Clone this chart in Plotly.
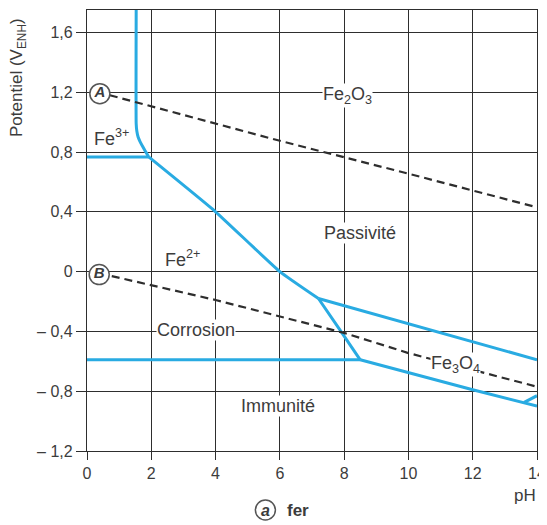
import plotly.graph_objects as go

# ---- data ----
ph_fe3_fe2o3 = [1.53, 1.53, 1.55, 1.59, 1.65, 1.75, 1.92]
e_fe3_fe2o3 = [1.75, 0.99, 0.94, 0.9, 0.87, 0.83, 0.767]
ph_fe3_fe2 = [0.0, 1.92]
e_fe3_fe2 = [0.767, 0.767]
ph_fe2_fe2o3 = [1.92, 4.0, 6.0, 7.2]
e_fe2_fe2o3 = [0.767, 0.4, 0.0, -0.18]
ph_fe2_fe3o4 = [7.2, 7.9, 8.5]
e_fe2_fe3o4 = [-0.18, -0.4, -0.59]
ph_fe3o4_fe2o3 = [7.2, 14.0]
e_fe3o4_fe2o3 = [-0.18, -0.59]
ph_fe_fe2 = [0.0, 8.5]
e_fe_fe2 = [-0.59, -0.59]
ph_fe_fe3o4 = [8.5, 12.0, 14.0]
e_fe_fe3o4 = [-0.59, -0.79, -0.9]
ph_hfeo2 = [13.6, 14.0]
e_hfeo2 = [-0.875, -0.83]
ph_water_a = [0.71, 6.0, 10.0, 14.0]
e_water_a = [1.18, 0.875, 0.655, 0.43]
ph_water_b = [0.77, 4.0, 8.0, 10.0, 14.0]
e_water_b = [-0.03, -0.19, -0.41, -0.545, -0.77]

circle_ph = [0.4, 0.38]
circle_e = [1.19, -0.02]
circle_txt = ["<i><b>A</b></i>", "<i><b>B</b></i>"]

x_ticks = [0, 2, 4, 6, 8, 10, 12, 14]
y_ticks = [-1.2, -0.8, -0.4, 0.0, 0.4, 0.8, 1.2, 1.6]
y_ticktext = ["– 1,2", "– 0,8", "– 0,4", "0", "0,4", "0,8", "1,2", "1,6"]

labels = [
    ("Fe<sub>2</sub>O<sub>3</sub>", 8.1, 1.18),
    ("Fe<sup>3+</sup>", 0.77, 0.9),
    ("Passivité", 8.5, 0.26),
    ("Fe<sup>2+</sup>", 2.96, 0.09),
    ("Corrosion", 3.38, -0.393),
    ("Fe<sub>3</sub>O<sub>4</sub>", 11.47, -0.62),
    ("Immunité", 5.95, -0.9),
]

BLUE = "#29abe2"
DARK = "#2e2e2e"
TXT = "#3c3c3c"
FONT = "Liberation Sans, Arial, sans-serif"

fig = go.Figure()

for xs, ys in [(ph_fe3_fe2o3, e_fe3_fe2o3), (ph_fe3_fe2, e_fe3_fe2),
               (ph_fe2_fe2o3, e_fe2_fe2o3), (ph_fe2_fe3o4, e_fe2_fe3o4),
               (ph_fe3o4_fe2o3, e_fe3o4_fe2o3), (ph_fe_fe2, e_fe_fe2),
               (ph_fe_fe3o4, e_fe_fe3o4), (ph_hfeo2, e_hfeo2)]:
    fig.add_trace(go.Scatter(x=xs, y=ys, mode="lines",
                             line=dict(color=BLUE, width=3, shape="spline", smoothing=0.4),
                             hoverinfo="skip", showlegend=False))

for xs, ys in [(ph_water_a, e_water_a), (ph_water_b, e_water_b)]:
    fig.add_trace(go.Scatter(x=xs, y=ys, mode="lines",
                             line=dict(color=DARK, width=2.2, dash="8px,5px"),
                             hoverinfo="skip", showlegend=False))

fig.add_trace(go.Scatter(x=circle_ph, y=circle_e, mode="markers+text",
                         text=circle_txt, textposition="middle center",
                         textfont=dict(family=FONT, size=15, color=TXT),
                         marker=dict(size=20, color="white",
                                     line=dict(color="#555555", width=1.5)),
                         cliponaxis=False, hoverinfo="skip", showlegend=False))

annotations = []
for t, x, y in labels:
    annotations.append(dict(x=x, y=y, xref="x", yref="y", text=t,
                            showarrow=False, bgcolor="white", borderpad=0,
                            font=dict(family=FONT, size=18, color=TXT)))

annotations.append(dict(x=0, y=1, xref="paper", yref="paper",
                        xanchor="center", yanchor="middle", xshift=-69, yshift=-68,
                        text="Potentiel (V<sub>ENH</sub>)", textangle=-90,
                        showarrow=False, font=dict(family=FONT, size=17, color=TXT)))
annotations.append(dict(x=14, y=0, xref="x", yref="paper", xanchor="right",
                        yanchor="middle", xshift=1, yshift=-44, text="pH",
                        showarrow=False, font=dict(family=FONT, size=17, color=TXT)))
annotations.append(dict(x=6.17, y=0, xref="x", yref="paper", xanchor="left",
                        yanchor="middle", yshift=-59, text="<b>fer</b>",
                        showarrow=False, font=dict(family=FONT, size=17, color=TXT)))
annotations.append(dict(x=5.55, y=0, xref="x", yref="paper", xanchor="center",
                        yanchor="middle", yshift=-59, text="<i><b>a</b></i>",
                        showarrow=False, font=dict(family=FONT, size=16, color=TXT)))

shapes = [dict(type="circle", xref="x", yref="paper", xsizemode="pixel",
               ysizemode="pixel", xanchor=5.55, yanchor=0,
               x0=-10, x1=10, y0=-69, y1=-49,
               line=dict(color="#555555", width=1.5), fillcolor="rgba(0,0,0,0)")]

# page body adds an 8px margin, so the figure is sized to fit the window
fig.update_layout(
    width=539, height=517, autosize=False,
    margin=dict(l=79, r=6, t=1, b=74),
    plot_bgcolor="white", paper_bgcolor="white",
    font=dict(family=FONT, size=16, color=TXT),
    annotations=annotations, shapes=shapes,
    xaxis=dict(range=[0, 14], tickvals=x_ticks, ticktext=[str(v) for v in x_ticks],
               showgrid=True, gridcolor=DARK, gridwidth=1.3,
               showline=True, linecolor=DARK, linewidth=1.3, mirror=True,
               ticks="outside", ticklen=8, tickcolor=DARK, tickwidth=1.3,
               zeroline=False, tickfont=dict(size=16, color=TXT),
               ticklabeloverflow="allow"),
    yaxis=dict(range=[-1.2, 1.75], tickvals=y_ticks, ticktext=y_ticktext,
               showgrid=True, gridcolor=DARK, gridwidth=1.3,
               showline=True, linecolor=DARK, linewidth=1.3, mirror=True,
               ticks="outside", ticklen=10, tickcolor=DARK, tickwidth=1.3,
               zeroline=False, tickfont=dict(size=16, color=TXT)),
)

fig.write_html("out.html")
